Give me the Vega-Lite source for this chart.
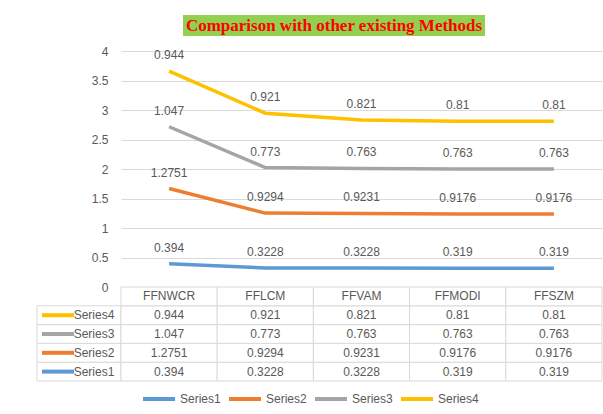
{
  "$schema": "https://vega.github.io/schema/vega-lite/v6.json",
  "padding": {"left": 34, "top": 15, "right": 0, "bottom": 0},
  "background": "white",
  "config": {"view": {"stroke": null}, "font": "Liberation Sans"},
  "datasets": {
    "rows": [
      {"method": "FFNWCR", "series": "Series1", "value": 0.394},
      {"method": "FFNWCR", "series": "Series2", "value": 1.2751},
      {"method": "FFNWCR", "series": "Series3", "value": 1.047},
      {"method": "FFNWCR", "series": "Series4", "value": 0.944},
      {"method": "FFLCM", "series": "Series1", "value": 0.3228},
      {"method": "FFLCM", "series": "Series2", "value": 0.9294},
      {"method": "FFLCM", "series": "Series3", "value": 0.773},
      {"method": "FFLCM", "series": "Series4", "value": 0.921},
      {"method": "FFVAM", "series": "Series1", "value": 0.3228},
      {"method": "FFVAM", "series": "Series2", "value": 0.9231},
      {"method": "FFVAM", "series": "Series3", "value": 0.763},
      {"method": "FFVAM", "series": "Series4", "value": 0.821},
      {"method": "FFMODI", "series": "Series1", "value": 0.319},
      {"method": "FFMODI", "series": "Series2", "value": 0.9176},
      {"method": "FFMODI", "series": "Series3", "value": 0.763},
      {"method": "FFMODI", "series": "Series4", "value": 0.81},
      {"method": "FFSZM", "series": "Series1", "value": 0.319},
      {"method": "FFSZM", "series": "Series2", "value": 0.9176},
      {"method": "FFSZM", "series": "Series3", "value": 0.763},
      {"method": "FFSZM", "series": "Series4", "value": 0.81}
    ]
  },
  "spacing": 9,
  "vconcat": [
    {
      "spacing": 0,
      "bounds": "flush",
      "hconcat": [
        {"width": 146, "height": 21, "data": {"values": []}, "mark": "point"},
        {
          "width": 302,
          "height": 21,
          "view": {"fill": "#92d050", "stroke": null},
          "data": {"values": [{"title": "Comparison with other existing Methods"}]},
          "mark": {"type": "text", "font": "Liberation Serif", "fontWeight": "bold", "fontSize": 17, "color": "#ff0000"},
          "encoding": {"text": {"field": "title"}}
        }
      ]
    },
    {
      "columns": 2,
      "spacing": 0,
      "bounds": "flush",
      "concat": [
        {"width": 84, "height": 236, "data": {"values": []}, "mark": "point"},
        {
          "width": 481,
          "height": 236,
          "data": {"name": "rows"},
          "transform": [
            {"stack": "value", "groupby": ["method"], "sort": [{"field": "series", "order": "ascending"}], "as": ["y0", "y1"]}
          ],
          "encoding": {
            "x": {"field": "method", "type": "nominal", "sort": ["FFNWCR", "FFLCM", "FFVAM", "FFMODI", "FFSZM"], "scale": {"type": "point", "padding": 0.5}, "axis": null},
            "y": {
              "field": "y1", "type": "quantitative",
              "scale": {"domain": [0, 4], "nice": false},
              "axis": {"values": [0, 0.5, 1, 1.5, 2, 2.5, 3, 3.5, 4], "format": "~g", "grid": true, "gridColor": "#d9d9d9", "domain": false, "ticks": false, "labelColor": "#595959", "labelFontSize": 12, "labelPadding": 13, "title": null}
            }
          },
          "layer": [
            {
              "mark": {"type": "line", "strokeWidth": 3.5},
              "encoding": {
                "color": {
                  "field": "series", "type": "nominal",
                  "scale": {"domain": ["Series1", "Series2", "Series3", "Series4"], "range": ["#5b9bd5", "#ed7d31", "#a5a5a5", "#ffc000"]},
                  "legend": {"orient": "none", "legendX": 104, "legendY": 366, "direction": "horizontal", "title": null, "padding": 0, "symbolType": "stroke", "symbolStrokeWidth": 4, "symbolSize": 1024, "labelFontSize": 12, "labelColor": "#595959", "columnPadding": 0, "labelOffset": 3}
                }
              }
            },
            {
              "mark": {"type": "text", "dy": -16, "fontSize": 12, "color": "#595959"},
              "encoding": {"text": {"field": "value", "type": "nominal"}}
            }
          ]
        },
        {
          "width": 84,
          "height": 94,
          "data": {"name": "rows"},
          "transform": [{"filter": "datum.method === 'FFNWCR'"}],
          "encoding": {
            "y": {"field": "series", "type": "nominal", "scale": {"type": "band", "domain": ["header", "Series4", "Series3", "Series2", "Series1"], "paddingInner": 0, "paddingOuter": 0}, "axis": null}
          },
          "layer": [
            {"mark": {"type": "rect", "fill": "white", "stroke": "#d9d9d9", "strokeWidth": 1}},
            {
              "mark": {"type": "point", "shape": "stroke", "size": 1024, "strokeWidth": 4, "filled": false, "opacity": 1},
              "encoding": {
                "x": {"datum": "swatch", "type": "nominal", "scale": {"type": "band", "domain": ["swatch", "label"], "paddingInner": 0, "paddingOuter": 0}, "axis": null},
                "stroke": {"field": "series", "type": "nominal", "scale": {"domain": ["Series1", "Series2", "Series3", "Series4"], "range": ["#5b9bd5", "#ed7d31", "#a5a5a5", "#ffc000"]}, "legend": null}
              }
            },
            {
              "mark": {"type": "text", "fontSize": 12, "color": "#595959", "dx": -6},
              "encoding": {
                "x": {"datum": "label", "type": "nominal"},
                "text": {"field": "series"}
              }
            }
          ]
        },
        {
          "width": 481,
          "height": 94,
          "data": {"name": "rows"},
          "encoding": {
            "x": {"field": "method", "type": "nominal", "sort": ["FFNWCR", "FFLCM", "FFVAM", "FFMODI", "FFSZM"], "scale": {"type": "band", "paddingInner": 0, "paddingOuter": 0}, "axis": null}
          },
          "layer": [
            {
              "mark": {"type": "rect", "fill": "white", "stroke": "#d9d9d9", "strokeWidth": 1},
              "encoding": {"y": {"field": "series", "type": "nominal", "scale": {"type": "band", "domain": ["header", "Series4", "Series3", "Series2", "Series1"], "paddingInner": 0, "paddingOuter": 0}, "axis": null}}
            },
            {
              "mark": {"type": "text", "fontSize": 12, "color": "#595959"},
              "encoding": {
                "y": {"field": "series", "type": "nominal"},
                "text": {"field": "value", "type": "nominal"}
              }
            },
            {
              "transform": [{"filter": "datum.series === 'Series1'"}],
              "mark": {"type": "rect", "fill": "white", "stroke": "#d9d9d9", "strokeWidth": 1},
              "encoding": {"y": {"datum": "header", "type": "nominal"}}
            },
            {
              "transform": [{"filter": "datum.series === 'Series1'"}],
              "mark": {"type": "text", "fontSize": 12, "color": "#595959"},
              "encoding": {
                "y": {"datum": "header", "type": "nominal"},
                "text": {"field": "method"}
              }
            }
          ]
        }
      ]
    }
  ]
}
